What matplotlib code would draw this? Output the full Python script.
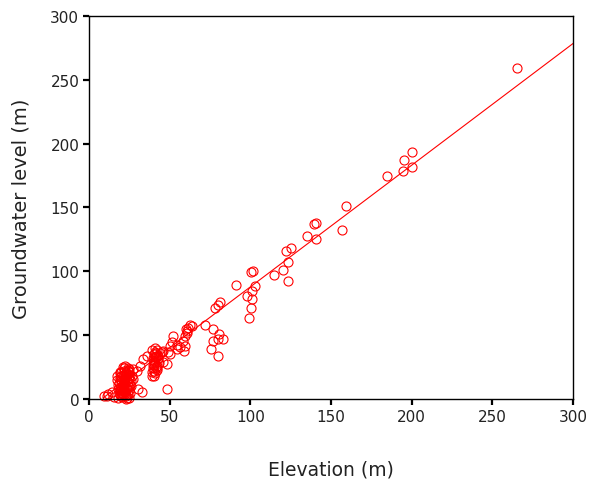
import numpy as np
import matplotlib
matplotlib.use("Agg")
import matplotlib.pyplot as plt

plt.rcParams['font.family'] = ['DejaVu Sans']

# Elevation (m) and groundwater level (m) for each well
elev_upper = [265.3, 184.7, 195.3, 200.4, 194.5, 200.4,
              159.3, 139.5, 140.5, 135.0, 140.7, 156.7,
              121.9, 125.5, 123.6, 120.0, 114.5, 123.6,
              101.5, 100.2, 91.1, 102.9, 100.9, 97.8, 101.2, 100.2, 99.4,
              81.2, 80.2, 78.1, 71.9, 77.1, 80.8, 82.9, 80.2, 77.1, 75.4, 80.2]
gwl_upper = [259.2, 174.5, 187.5, 193.6, 178.5, 181.4,
             151.4, 137.0, 137.5, 127.9, 125.3, 132.6,
             116.1, 118.0, 107.0, 101.3, 97.1, 92.1,
             100.5, 99.2, 89.3, 88.2, 84.8, 80.9, 78.3, 71.0, 63.2,
             76.2, 73.6, 71.0, 57.9, 54.8, 50.9, 47.0, 47.0, 45.7, 39.2, 33.4]

elev_mid = [62.6, 60.1, 61.0, 59.5, 58.5, 59.5, 58.9, 61.5, 60.5, 63.6,
            52.3, 51.2, 54.4, 56.4, 50.2, 54.4, 49.2, 46.1, 48.2, 48.5,
            45.1, 50.2, 45.6,
            39.0, 39.5, 40.0, 40.5, 41.0, 41.5, 42.0, 40.0, 39.5, 41.0,
            42.0, 40.5, 41.5, 42.5, 43.0, 39.0, 41.0, 42.0, 40.0, 38.8,
            43.5, 44.0, 40.2, 41.8, 39.8, 42.2, 40.8, 41.2, 39.4, 42.8,
            33.7, 35.7, 31.6, 29.5, 27.5, 27.5, 30.6, 32.6, 11.0, 12.0,
            14.0, 15.5, 9.3]
gwl_mid = [57.9, 54.8, 53.0, 49.6, 45.7, 41.7, 37.8, 56.0, 52.0, 57.4,
           49.6, 44.4, 42.3, 40.5, 41.7, 39.2, 37.0, 28.7, 27.4, 7.8,
           36.6, 35.2, 37.8,
           21.0, 24.0, 27.0, 30.0, 33.0, 36.0, 38.0, 35.0, 32.0, 29.0,
           26.0, 22.0, 25.0, 31.0, 34.0, 38.0, 40.0, 23.0, 18.0, 18.3,
           28.0, 36.0, 28.5, 33.5, 30.5, 24.5, 37.0, 20.0, 26.5, 32.5,
           31.3, 33.9, 26.0, 22.2, 15.7, 23.5, 7.8, 5.7, 2.6, 3.9,
           5.2, 1.5, 2.3]

elev_low = [18, 19, 20, 20, 21, 21, 22, 22, 23, 23, 24, 24, 25, 19, 20,
            21, 22, 23, 24, 25, 18, 20, 22, 24, 21, 23, 19, 22, 20, 24,
            21, 23, 25, 22, 20, 18, 26, 21, 23, 24, 17.5, 26, 25.5, 19.5, 22.5,
            18.5, 19.5, 20.5, 21.5, 22.5, 23.5, 24.5, 25.5, 18.5, 19.5,
            20.5, 21.5, 22.5, 23.5, 24.5, 25.5, 19.0, 21.0, 23.0, 25.0,
            20.0, 22.0, 24.0, 26.5, 17.5, 21.5, 23.5, 19.5, 24.5, 22.0]
gwl_low = [1, 3, 5, 8, 10, 12, 14, 16, 18, 20, 22, 24, 21, 17, 13,
           9, 6, 2, 4, 7, 11, 15, 19, 23, 25, 0, 20, 12, 18, 10,
           6, 3, 16, 22, 2, 8, 14, 4, 9, 13, 15, 10, 5, 7, 26,
           4.5, 6.5, 8.5, 10.5, 12.5, 14.5, 16.5, 18.5, 12.5, 15.5,
           1.5, 3.5, 5.5, 7.5, 9.5, 11.5, 9.0, 19.0, 21.5, 23.5,
           21.0, 24.0, 19.5, 18.0, 18.0, 16.0, 1.0, 21.5, 0.5, 9.0]

elevation = np.array(elev_upper + elev_mid + elev_low)
groundwater = np.array(gwl_upper + gwl_mid + gwl_low)

# Fitted linear trend
slope = 0.953
intercept = -7.5
fit_x = np.array([9.0, 300.0])

xticks = [0, 50, 100, 150, 200, 250, 300]
yticks = [0, 50, 100, 150, 200, 250, 300]

fig = plt.figure(figsize=(5.91, 4.81), dpi=100)
ax = fig.add_axes([0.1506, 0.1684, 0.8189, 0.7963])

ax.plot(elevation, groundwater, linestyle='none', marker='o', markersize=6.5,
        markerfacecolor='none', markeredgecolor='#ff0000', markeredgewidth=0.8,
        clip_on=False)
ax.plot(fit_x, slope * fit_x + intercept, color='#ff0000', linewidth=0.8)

ax.set_xlim(0, 300)
ax.set_ylim(0, 300)
ax.set_xticks(xticks)
ax.set_yticks(yticks)
ax.tick_params(direction='out', length=4, width=1.6, labelsize=11, pad=3,
               labelcolor='#222222')
for sp in ax.spines.values():
    sp.set_linewidth(1.0)

ax.set_xlabel('Elevation (m)', fontsize=13.5, labelpad=26, color='#222222')
ax.set_ylabel('Groundwater level (m)', fontsize=14, labelpad=14, color='#222222')

fig.savefig('out.png', dpi=100, facecolor='white')
